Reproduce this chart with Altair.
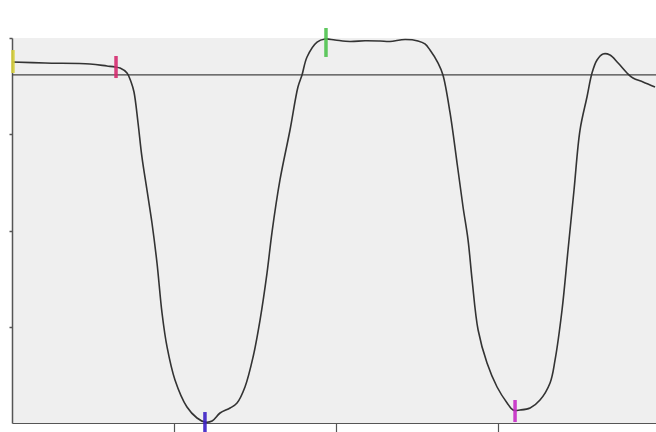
import altair as alt
import pandas as pd

# Curve trace (x in divisions, y in divisions)
curve_x = [0.000, 0.204, 0.481, 0.586, 0.636, 0.667, 0.710, 0.735, 0.753, 0.778,
           0.802, 0.833, 0.864, 0.895, 0.926, 0.957, 1.006, 1.080, 1.142, 1.191,
           1.235, 1.284, 1.346, 1.389, 1.438, 1.488, 1.531, 1.574, 1.605, 1.654,
           1.716, 1.765, 1.790, 1.821, 1.883, 1.932, 1.994, 2.086, 2.179, 2.272,
           2.333, 2.426, 2.506, 2.549, 2.580, 2.630, 2.660, 2.704, 2.747, 2.784,
           2.815, 2.840, 2.877, 2.932, 2.994, 3.056, 3.093, 3.136, 3.198, 3.259,
           3.321, 3.352, 3.395, 3.432, 3.469, 3.506, 3.549, 3.580, 3.611, 3.648,
           3.691, 3.741, 3.796, 3.833, 3.895, 3.969]
curve_y = [3.751, 3.740, 3.730, 3.709, 3.699, 3.688, 3.636, 3.543, 3.439, 3.117,
           2.764, 2.421, 2.078, 1.662, 1.143, 0.790, 0.447, 0.166, 0.052, 0.010,
           0.021, 0.104, 0.156, 0.208, 0.374, 0.686, 1.070, 1.558, 1.984, 2.525,
           3.044, 3.491, 3.616, 3.803, 3.958, 3.990, 3.979, 3.964, 3.972, 3.969,
           3.964, 3.984, 3.969, 3.938, 3.875, 3.740, 3.616, 3.221, 2.701, 2.244,
           1.901, 1.486, 0.966, 0.623, 0.374, 0.208, 0.135, 0.135, 0.156, 0.239,
           0.416, 0.655, 1.174, 1.797, 2.421, 3.044, 3.387, 3.636, 3.771, 3.834,
           3.823, 3.740, 3.636, 3.584, 3.543, 3.491]

ref_level = 3.616

marker_x = [0.006, 0.642, 1.191, 1.938, 3.105]
marker_y1 = [3.636, 3.584, -0.094, 3.803, 0.010]
marker_y2 = [3.875, 3.813, 0.114, 4.104, 0.239]
marker_name = ["m0", "m1", "m2", "m3", "m4"]
marker_color = ["#d6cf3c", "#d42a6e", "#3b1fc4", "#4ec24e", "#c52ac5"]

x_ticks = [1, 2, 3]
y_ticks = [1, 2, 3, 4]

curve_df = pd.DataFrame({"x": curve_x, "y": curve_y})
marker_df = pd.DataFrame({"x": marker_x, "y1": marker_y1, "y2": marker_y2,
                          "name": marker_name})
ref_df = pd.DataFrame({"y": [ref_level]})

xs = alt.Scale(domain=[0, 3.975], nice=False, zero=False)
ys = alt.Scale(domain=[0, 4], nice=False, zero=False)

x_axis = alt.Axis(values=x_ticks, labels=False, title=None, grid=False,
                  tickSize=9, domainColor="#555555", tickColor="#555555",
                  domainWidth=1.2, tickWidth=1.2)
y_axis = alt.Axis(values=y_ticks, labels=False, title=None, grid=False,
                  tickSize=3, domainColor="#555555", tickColor="#555555",
                  domainWidth=1.5, tickWidth=1.5)

ref = alt.Chart(ref_df).mark_rule(color="#444444", strokeWidth=1.2).encode(
    y=alt.Y("y:Q", scale=ys, axis=y_axis)
)

line = alt.Chart(curve_df).mark_line(
    color="#333333", strokeWidth=1.6, interpolate="catmull-rom"
).encode(
    x=alt.X("x:Q", scale=xs, axis=x_axis),
    y=alt.Y("y:Q", scale=ys, axis=y_axis),
)

markers = alt.Chart(marker_df).mark_rule(strokeWidth=3.5, clip=False, opacity=0.9).encode(
    x=alt.X("x:Q", scale=xs),
    y=alt.Y("y1:Q", scale=ys),
    y2="y2:Q",
    color=alt.Color("name:N", scale=alt.Scale(domain=marker_name, range=marker_color),
                    legend=None),
)

chart = alt.layer(ref, line, markers).properties(
    width=644, height=385,
    autosize=alt.AutoSizeParams(type="none"),
    padding={"left": 12, "top": 38, "right": 0, "bottom": 9},
    background="white",
).configure_view(fill="#efefef", stroke=None)

chart.save("out.html", embed_options={"renderer": "svg", "actions": False})
